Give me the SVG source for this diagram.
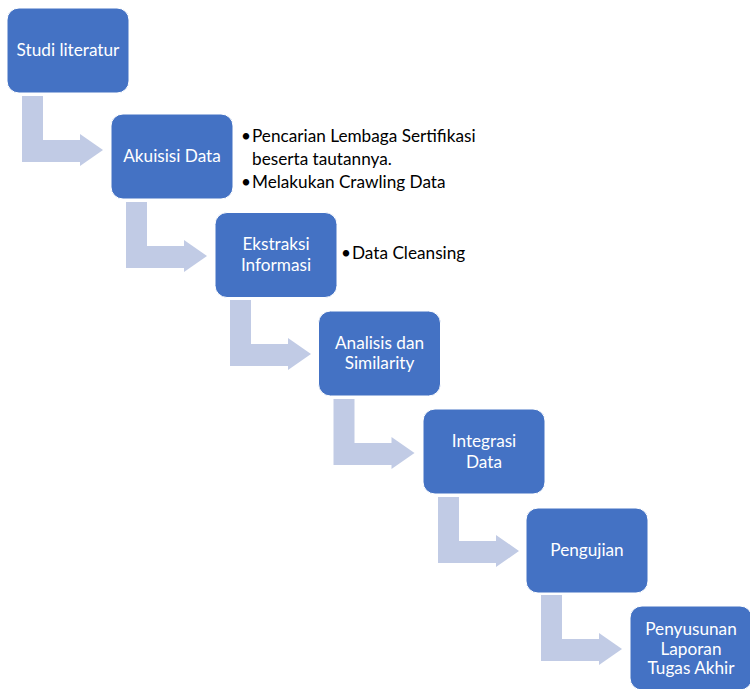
<svg xmlns="http://www.w3.org/2000/svg" width="750" height="689" viewBox="0 0 750 689">
<style>
.box{fill:#4472C4;stroke:#ffffff;stroke-width:1}
.arr{fill:#C1CBE5}
.lbl{font-family:Lato,"Noto Sans","Liberation Sans",sans-serif;font-size:17.2px;fill:#ffffff;text-anchor:middle}
.note{font-family:Lato,"Noto Sans","Liberation Sans",sans-serif;font-size:17.2px;fill:#000000}
</style>
<rect width="750" height="689" fill="#ffffff"/>
<g id="connectors">
<path class="arr" d="M22,96 H43 V140 H80 V134 L103,150 L80,166 V162 H22 Z"/>
<path class="arr" d="M126,202 H147 V246 H184 V240 L207,256 L184,272 V268 H126 Z"/>
<path class="arr" d="M230,300 H251 V344 H288 V338 L311,354 L288,370 V366 H230 Z"/>
<path class="arr" d="M333.5,399 H354.5 V443 H391.5 V437 L414.5,453 L391.5,469 V465 H333.5 Z"/>
<path class="arr" d="M438,497 H459 V541 H496 V535 L519,551 L496,567 V563 H438 Z"/>
<path class="arr" d="M541,595 H562 V639 H599 V633 L622,649 L599,665 V661 H541 Z"/>
</g>
<g id="n1">
<rect class="box" x="7" y="8" width="122" height="85" rx="12"/>
<text class="lbl" x="68" y="56">Studi literatur</text>
</g>
<g id="n2">
<rect class="box" x="111" y="114" width="122" height="85" rx="12"/>
<text class="lbl" x="172" y="162">Akuisisi Data</text>
</g>
<g id="n3">
<rect class="box" x="215" y="212.5" width="122" height="85" rx="12"/>
<text class="lbl" x="276" y="250">Ekstraksi</text>
<text class="lbl" x="276" y="271">Informasi</text>
</g>
<g id="n4">
<rect class="box" x="318.5" y="311" width="122" height="85" rx="12"/>
<text class="lbl" x="379.5" y="349">Analisis dan</text>
<text class="lbl" x="379.5" y="369">Similarity</text>
</g>
<g id="n5">
<rect class="box" x="423" y="409" width="122" height="85" rx="12"/>
<text class="lbl" x="484" y="447">Integrasi</text>
<text class="lbl" x="484" y="468">Data</text>
</g>
<g id="n6">
<rect class="box" x="526" y="508" width="122" height="85" rx="12"/>
<text class="lbl" x="587" y="556">Pengujian</text>
</g>
<g id="n7">
<rect class="box" x="630" y="606" width="122" height="84" rx="12"/>
<text class="lbl" x="691" y="635">Penyusunan</text>
<text class="lbl" x="691" y="655">Laporan</text>
<text class="lbl" x="691" y="674">Tugas Akhir</text>
</g>
<g id="notes">
<text class="note" x="241" y="142">•</text>
<text class="note" x="252" y="142">Pencarian Lembaga Sertifikasi</text>
<text class="note" x="252" y="165">beserta tautannya.</text>
<text class="note" x="241" y="188">•</text>
<text class="note" x="252" y="188">Melakukan Crawling Data</text>
<text class="note" x="341" y="259">•</text>
<text class="note" x="352" y="259">Data Cleansing</text>
</g>
</svg>
